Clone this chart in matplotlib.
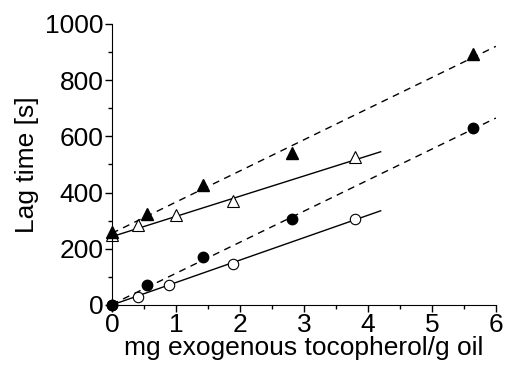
import matplotlib
matplotlib.use("Agg")
import matplotlib.pyplot as plt
from matplotlib.ticker import MultipleLocator

plt.rcParams["font.family"] = ["Liberation Sans", "DejaVu Sans"]

# filled triangles (dashed fit)
tri_f_x = [0.0, 0.55, 1.42, 2.81, 5.64]
tri_f_y = [258, 325, 428, 540, 892]
# open triangles (solid fit)
tri_o_x = [0.0, 0.41, 1.0, 1.9, 3.8]
tri_o_y = [250, 285, 320, 370, 525]
# filled circles (dashed fit)
cir_f_x = [0.0, 0.55, 1.42, 2.81, 5.64]
cir_f_y = [0, 71, 171, 306, 630]
# open circles (solid fit)
cir_o_x = [0.0, 0.41, 0.9, 1.9, 3.8]
cir_o_y = [0, 30, 72, 145, 305]

# fit lines: (x_start, x_end), (y_start, y_end)
fit_tri_f = ([0.0, 6.0], [255, 920])
fit_tri_o = ([0.0, 4.2], [243, 545])
fit_cir_f = ([0.0, 6.0], [2, 665])
fit_cir_o = ([0.0, 4.2], [0, 335])

fig = plt.figure(figsize=(5.06, 3.67), dpi=100)
ax = fig.add_axes([0.221, 0.169, 0.759, 0.766])

ax.plot(*fit_tri_f, color="black", lw=1.0, ls=(0, (5, 4)))
ax.plot(*fit_cir_f, color="black", lw=1.0, ls=(0, (5, 4)))
ax.plot(*fit_tri_o, color="black", lw=1.0)
ax.plot(*fit_cir_o, color="black", lw=1.0)

ax.plot(tri_o_x, tri_o_y, ls="none", marker="^", ms=8, mfc="white", mec="black", mew=0.8, clip_on=False)
ax.plot(cir_o_x, cir_o_y, ls="none", marker="o", ms=7.5, mfc="white", mec="black", mew=0.8, clip_on=False)
ax.plot(tri_f_x, tri_f_y, ls="none", marker="^", ms=8, color="black", clip_on=False)
ax.plot(cir_f_x, cir_f_y, ls="none", marker="o", ms=7.5, color="black", clip_on=False)

ax.set_xlim(0, 6)
ax.set_ylim(0, 1000)
ax.spines["top"].set_visible(False)
ax.spines["right"].set_visible(False)
ax.xaxis.set_major_locator(MultipleLocator(1))
ax.xaxis.set_minor_locator(MultipleLocator(0.5))
ax.yaxis.set_major_locator(MultipleLocator(200))
ax.yaxis.set_minor_locator(MultipleLocator(100))
ax.tick_params(which="major", direction="out", length=5, width=1, labelsize=19, pad=1)
ax.tick_params(which="minor", direction="out", length=3, width=1)

ax.set_xlabel("mg exogenous tocopherol/g oil", fontsize=19, labelpad=-1)
ax.set_ylabel("Lag time [s]", fontsize=19, labelpad=4)

fig.savefig("out.png", dpi=100)
